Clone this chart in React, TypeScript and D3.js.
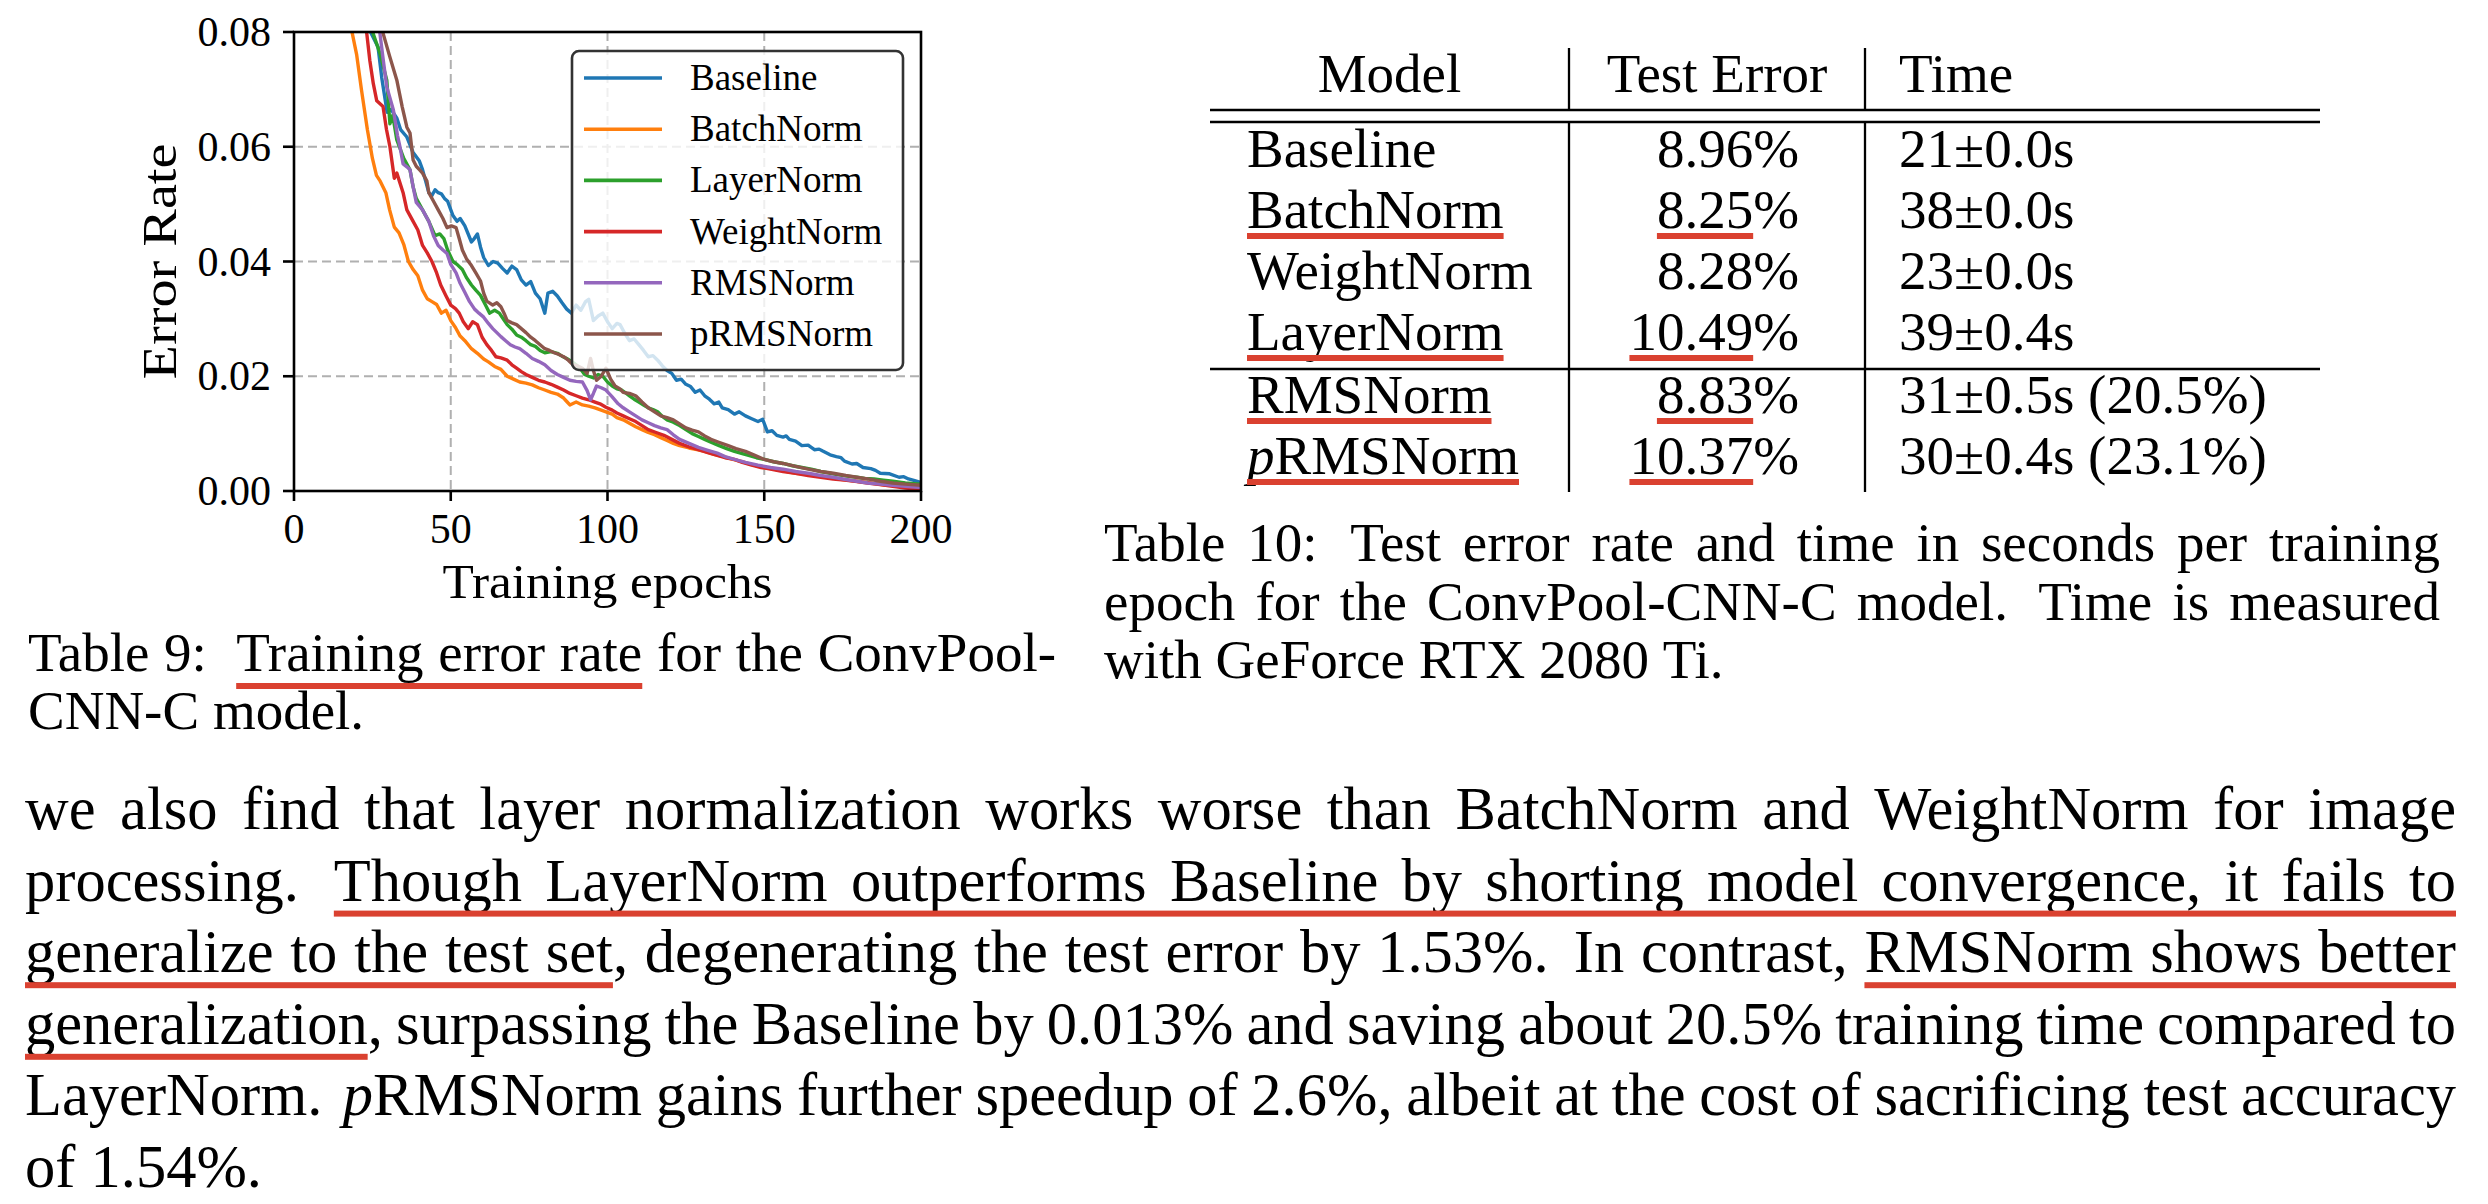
import React, { useEffect, useRef } from 'react';
import * as d3 from 'd3';

const W = 2488;
const H = 1204;
const SERIF = "'Liberation Serif', 'Times New Roman', serif";
const RED = '#da4130';

// ---------- chart data ----------
const xTicks = [0, 50, 100, 150, 200];
const yTicks = [0, 0.02, 0.04, 0.06, 0.08];
const seriesNames = ['Baseline', 'BatchNorm', 'LayerNorm', 'WeightNorm', 'RMSNorm', 'pRMSNorm'];
const seriesColors = ['#1f77b4', '#ff7f0e', '#2ca02c', '#d62728', '#9467bd', '#8c564b'];

const baselineErr: [number, number][] = [
  [10, 0.13], [20, 0.095], [24.4, 0.08], [26.8, 0.0774], [28, 0.072], [29.7, 0.066], [31, 0.0665], [32.8, 0.065],
  [34, 0.063], [36, 0.0617], [38, 0.059], [40, 0.0575], [41, 0.056], [42, 0.054], [43, 0.052], [44, 0.0515],
  [45, 0.0525], [46, 0.052], [47, 0.0518], [48, 0.051], [49, 0.0505], [50.7, 0.048], [52, 0.047], [53, 0.0475],
  [54.5, 0.0462], [56.6, 0.0434], [57.5, 0.044], [58.5, 0.0448], [59.5, 0.0425], [60.5, 0.0407], [62, 0.0393],
  [63.5, 0.04], [65, 0.0397], [66.5, 0.0388], [68, 0.038], [69.5, 0.0392], [71, 0.0386], [72.5, 0.0368],
  [74, 0.0359], [75.5, 0.0365], [77, 0.0345], [78.5, 0.0335], [80, 0.031], [81, 0.0345], [82.5, 0.0348],
  [84, 0.034], [85.5, 0.0328], [87, 0.0317], [88.5, 0.031], [90, 0.0324], [91.5, 0.0315], [93, 0.033],
  [94, 0.0334], [95.5, 0.0297], [97, 0.0305], [98.5, 0.031], [100, 0.0295], [101.5, 0.0283], [103, 0.0292],
  [104, 0.029], [105.5, 0.0275], [107, 0.0262], [108.5, 0.0265], [110, 0.0255], [111.5, 0.0245], [113, 0.0234],
  [114.5, 0.0236], [116, 0.0228], [117.5, 0.0218], [119, 0.021], [120.5, 0.0205], [122, 0.0193], [123.5, 0.0195],
  [125, 0.0186], [126.5, 0.0182], [128, 0.0172], [129.5, 0.0176], [131, 0.0166], [132.5, 0.016], [134, 0.0152],
  [135.5, 0.0155], [136.6, 0.0145], [138.5, 0.0142], [140.5, 0.0134], [142, 0.0138], [144, 0.0131], [146, 0.0126],
  [148, 0.0121], [149.5, 0.0125], [151, 0.0103], [152.5, 0.0105], [154, 0.0097], [156, 0.0094], [157, 0.0096],
  [158, 0.009], [160, 0.0087], [161, 0.0083], [162, 0.0079], [164, 0.008], [166, 0.0072], [167.5, 0.0073],
  [168.5, 0.007], [171, 0.0063], [173, 0.006], [174.5, 0.0058], [175.6, 0.0052], [178, 0.0047], [179.5, 0.0048],
  [181.5, 0.0041], [184, 0.0039], [185.5, 0.0036], [187, 0.0031], [190, 0.003], [193, 0.0024], [194.5, 0.0025],
  [196, 0.0021], [198, 0.0018], [200, 0.0015],
];

const batchNormErr: [number, number][] = [
  [10, 0.12], [18.5, 0.08], [20, 0.076], [21.5, 0.07], [23.4, 0.063], [25, 0.058], [26.3, 0.055], [27.5, 0.054],
  [29.3, 0.052], [30.5, 0.049], [32, 0.046], [33.5, 0.045], [35, 0.043], [36.5, 0.04], [38, 0.0386], [39.5, 0.0375],
  [41, 0.035], [42.5, 0.0335], [44, 0.033], [45.5, 0.0325], [47, 0.031], [48.5, 0.0315], [50, 0.0297], [51.5, 0.0285],
  [53, 0.027], [54.5, 0.0262], [56.6, 0.0248], [58.5, 0.024], [60.5, 0.023], [62, 0.0225], [64, 0.0217], [66, 0.0212],
  [68, 0.02], [70, 0.0195], [72, 0.019], [74, 0.0188], [76, 0.0185], [78, 0.018], [80, 0.0176], [82, 0.0172],
  [84, 0.0169], [86, 0.0162], [87, 0.0156], [88, 0.015], [90, 0.0155], [92, 0.015], [94, 0.0148], [96, 0.0145],
  [98, 0.0141], [99.5, 0.0138], [101.5, 0.0134], [103, 0.0128], [105, 0.0124], [107, 0.0118], [109, 0.0112],
  [111, 0.0107], [113, 0.0102], [115, 0.0098], [117, 0.0093], [119, 0.0088], [121, 0.0083], [123, 0.0079],
  [126, 0.0075], [128.5, 0.0072], [131, 0.0069], [134, 0.0064], [137, 0.006], [140, 0.0055], [143, 0.0051],
  [146, 0.0046], [150, 0.0041], [153, 0.0038], [156, 0.0035], [160, 0.0031], [165, 0.0028], [170, 0.0024],
  [175, 0.002], [179.5, 0.0017], [184, 0.0014], [189, 0.001], [194, 0.0009], [200, 0.0007],
];

const layerNormErr: [number, number][] = [
  [10, 0.14], [24.4, 0.081], [25.2, 0.0798], [27.4, 0.0763], [29.6, 0.0716], [30.6, 0.064], [31.5, 0.0655],
  [32.8, 0.0612], [35, 0.058], [37, 0.056], [38, 0.053], [39, 0.051], [41, 0.049], [43, 0.047], [45, 0.0445],
  [46.5, 0.0448], [47.8, 0.044], [49, 0.042], [50.7, 0.04], [52, 0.0395], [53.7, 0.0386], [55, 0.0372],
  [56.6, 0.0359], [58, 0.035], [59.5, 0.0341], [61, 0.0325], [62.4, 0.031], [64, 0.0315], [65.5, 0.031],
  [67, 0.0298], [68, 0.029], [69.5, 0.0282], [71, 0.0272], [72.5, 0.0268], [74, 0.0262], [75.5, 0.0255],
  [77, 0.0252], [78.5, 0.0245], [80, 0.0241], [82, 0.0243], [84, 0.024], [85.5, 0.0235], [87, 0.0231],
  [88.5, 0.0226], [90, 0.022], [91.5, 0.0212], [92.7, 0.0203], [94, 0.02], [95.6, 0.0197], [97, 0.0203],
  [98.5, 0.02], [100, 0.019], [101.5, 0.0183], [103, 0.0178], [104.5, 0.0176], [106, 0.017], [107, 0.0166],
  [108.5, 0.016], [110, 0.0155], [111.5, 0.015], [113, 0.0145], [114.5, 0.0142], [116, 0.0138], [117.5, 0.013],
  [119, 0.0124], [121, 0.012], [123, 0.0114], [125, 0.0107], [127, 0.01], [129, 0.0095], [131, 0.009],
  [133, 0.0085], [135.6, 0.0079], [138, 0.0074], [140.5, 0.0069], [143, 0.0065], [145, 0.0062], [147.5, 0.0058],
  [150, 0.0055], [153, 0.0051], [156, 0.0048], [159, 0.0044], [162, 0.0041], [165, 0.0038], [168, 0.0034],
  [171, 0.0031], [173.7, 0.0028], [176.5, 0.0026], [179.5, 0.0024], [182, 0.0022], [185, 0.0021], [188, 0.0019],
  [191, 0.0017], [195, 0.0014], [200, 0.0012],
];

const weightNormErr: [number, number][] = [
  [10, 0.125], [23.2, 0.0798], [24.2, 0.075], [25.3, 0.071], [26.4, 0.068], [28.4, 0.067], [29.5, 0.063],
  [30.6, 0.06], [32, 0.0545], [32.8, 0.0554], [34.8, 0.052], [36, 0.049], [38, 0.047], [39.5, 0.0455],
  [41, 0.0428], [42.5, 0.0415], [44, 0.04], [45.5, 0.038], [46.8, 0.0359], [48.5, 0.034], [50, 0.0324],
  [51.5, 0.0318], [52.7, 0.031], [54, 0.0295], [55.6, 0.0283], [57, 0.0295], [58.5, 0.029], [60, 0.0268],
  [61.5, 0.0255], [63, 0.0245], [64.4, 0.0234], [66, 0.0232], [68, 0.0228], [69.5, 0.022], [71, 0.0214],
  [72.5, 0.0208], [74, 0.0203], [76, 0.0198], [78, 0.0193], [80, 0.019], [82, 0.0186], [84, 0.0181],
  [86, 0.0176], [88, 0.017], [90, 0.0166], [92, 0.0162], [94, 0.0159], [96, 0.0155], [97.6, 0.0152],
  [99.5, 0.0146], [101.5, 0.0141], [103, 0.0136], [105, 0.0131], [107, 0.0126], [109, 0.0121], [111, 0.0114],
  [113, 0.0107], [115.5, 0.0102], [118, 0.0097], [120.5, 0.009], [123, 0.0083], [126, 0.0077], [129, 0.0072],
  [132, 0.0067], [135, 0.0062], [137.5, 0.0058], [140.5, 0.0055], [143, 0.005], [146, 0.0045], [149, 0.0041],
  [152, 0.0038], [156, 0.0034], [160, 0.0031], [164, 0.0027], [168, 0.0024], [172, 0.0021], [175.6, 0.0019],
  [179, 0.0017], [183, 0.0014], [187, 0.0011], [191, 0.0008], [195, 0.0005], [200, 0.0003],
];

const rmsNormErr: [number, number][] = [
  [10, 0.14], [27, 0.081], [27.4, 0.0798], [28.5, 0.075], [29.6, 0.0704], [31.7, 0.0664], [33, 0.062],
  [33.8, 0.06], [34.8, 0.057], [36, 0.0565], [37, 0.056], [38, 0.053], [39, 0.0503], [41, 0.049], [43, 0.047],
  [44.5, 0.0445], [46, 0.0428], [47.5, 0.042], [48.8, 0.0414], [50, 0.0395], [51.7, 0.038], [53, 0.0362],
  [54.6, 0.0345], [56, 0.033], [57.6, 0.0317], [59, 0.031], [60.5, 0.0303], [62, 0.0292], [63.4, 0.0283],
  [64.7, 0.0276], [66, 0.0269], [67.5, 0.0262], [69, 0.0255], [70.5, 0.0251], [72, 0.0248], [74, 0.024],
  [76, 0.0231], [78, 0.0226], [80, 0.022], [82, 0.021], [84, 0.0203], [86, 0.0198], [88, 0.0193], [90, 0.0191],
  [92, 0.019], [93.5, 0.0175], [94.6, 0.0159], [95.5, 0.017], [96.5, 0.0183], [98, 0.018], [99.5, 0.0176],
  [101.5, 0.0164], [103.4, 0.0152], [105, 0.0145], [107, 0.0138], [109, 0.0131], [111, 0.0124], [113, 0.0119],
  [115, 0.0114], [117, 0.011], [119, 0.0107], [121, 0.0098], [123, 0.009], [126, 0.0083], [129, 0.0076],
  [132, 0.0071], [135, 0.0066], [137.5, 0.006], [140.5, 0.0055], [144, 0.005], [148, 0.0045], [152, 0.0041],
  [156, 0.0038], [160, 0.0034], [164, 0.0031], [168, 0.0027], [172, 0.0024], [176, 0.002], [179.5, 0.0017],
  [183, 0.0014], [187, 0.0012], [191, 0.001], [195, 0.0008], [200, 0.0006],
];

const pRmsNormErr: [number, number][] = [
  [10, 0.15], [28.3, 0.081], [28.4, 0.0798], [30.5, 0.0758], [32.8, 0.0716], [34.5, 0.067], [36, 0.0634],
  [37, 0.0624], [38, 0.0577], [39, 0.0566], [40, 0.056], [41, 0.0554], [42.4, 0.054], [43, 0.052], [44.5, 0.0505],
  [46, 0.049], [47.5, 0.0475], [48.8, 0.0459], [50.2, 0.0462], [51.7, 0.0459], [52.7, 0.044], [53.7, 0.042],
  [55, 0.0405], [56.6, 0.0393], [58, 0.038], [59.5, 0.0366], [60.5, 0.0345], [61.5, 0.0331], [63.4, 0.0324],
  [64.7, 0.0328], [66, 0.0321], [67, 0.031], [68, 0.0297], [69.5, 0.0293], [71, 0.029], [72.5, 0.0283],
  [74, 0.0276], [75.5, 0.0268], [77, 0.0262], [78.5, 0.0255], [80, 0.0248], [81.5, 0.0245], [83, 0.0241],
  [84.5, 0.0238], [86, 0.0234], [87.5, 0.0228], [89, 0.022], [90.5, 0.0218], [92, 0.0214], [93.5, 0.0205],
  [94.6, 0.0231], [95.5, 0.021], [96.5, 0.0193], [98, 0.02], [99.5, 0.0214], [101, 0.0195], [102.4, 0.0183],
  [104, 0.0178], [105, 0.0172], [107, 0.017], [109, 0.0166], [111, 0.0155], [113, 0.0145], [115, 0.0138],
  [117, 0.0131], [119, 0.0128], [121, 0.0124], [123, 0.0117], [125, 0.011], [127, 0.0106], [129, 0.0103],
  [131, 0.0096], [133, 0.009], [135.5, 0.0085], [138.5, 0.0079], [141, 0.0074], [144, 0.0069], [147, 0.0062],
  [150, 0.0055], [153, 0.0051], [156, 0.0048], [160, 0.0043], [164, 0.0038], [168, 0.0034], [172, 0.0031],
  [176, 0.0027], [179.5, 0.0024], [183, 0.0021], [187, 0.0017], [191, 0.0014], [195, 0.0012], [200, 0.001],
];

const seriesData = [baselineErr, batchNormErr, layerNormErr, weightNormErr, rmsNormErr, pRmsNormErr];

// ---------- table data ----------
const tableHeader = ['Model', 'Test Error', 'Time'];
const tableModels = ['Baseline', '~BatchNorm~', 'WeightNorm', '~LayerNorm~', '~RMSNorm~', '~^p^RMSNorm~'];
const tableErrors = ['8.96%', '~8.25~%', '8.28%', '~10.49~%', '~8.83~%', '~10.37~%'];
const tableTimes = ['21±0.0s', '38±0.0s', '23±0.0s', '39±0.4s', '31±0.5s (20.5%)', '30±0.4s (23.1%)'];

// ---------- text ----------
const caption9 = ['Table 9:   ~Training error rate~ for the ConvPool-', 'CNN-C model.'];
const caption10 = [
  'Table 10:  Test error rate and time in seconds per training',
  'epoch for the ConvPool-CNN-C model.  Time is measured',
  'with GeForce RTX 2080 Ti.',
];
const bodyLines = [
  'we also find that layer normalization works worse than BatchNorm and WeightNorm for image',
  'processing.  ~Though LayerNorm outperforms Baseline by shorting model convergence, it fails to~',
  '~generalize to the test set~, degenerating the test error by 1.53%.  In contrast, ~RMSNorm shows better~',
  '~generalization~, surpassing the Baseline by 0.013% and saving about 20.5% training time compared to',
  'LayerNorm.  ^p^RMSNorm gains further speedup of 2.6%, albeit at the cost of sacrificing test accuracy',
  'of 1.54%.',
];

type Run = { t: string; u: boolean; i: boolean };
type Word = { runs: Run[]; gap: number };

function parseLine(s: string): Word[] {
  const words: Word[] = [];
  let u = false;
  let it = false;
  let cur: Run[] = [];
  let buf = '';
  let pending = 0;
  const flush = () => {
    if (buf) {
      cur.push({ t: buf, u, i: it });
      buf = '';
    }
  };
  const endWord = () => {
    flush();
    if (cur.length) {
      words.push({ runs: cur, gap: words.length ? pending : 0 });
      cur = [];
      pending = 0;
    }
  };
  for (const ch of s) {
    if (ch === '~') {
      flush();
      u = !u;
    } else if (ch === '^') {
      flush();
      it = !it;
    } else if (ch === ' ') {
      if (buf || cur.length) {
        endWord();
        pending = 1;
      } else pending += 0.5;
    } else buf += ch;
  }
  endWord();
  return words;
}

type LineOpts = {
  size: number;
  justify?: boolean;
  anchor?: 'start' | 'end' | 'middle';
  uOff: number;
  uH: number;
};

function drawLine(g: any, s: string, x0: number, x1: number, y: number, o: LineOpts) {
  const words = parseLine(s);
  const nodes = words.map((w) =>
    w.runs.map((r) => {
      const t = g
        .append('text')
        .attr('font-family', SERIF)
        .attr('font-size', o.size)
        .attr('font-style', r.i ? 'italic' : 'normal')
        .attr('fill', '#000')
        .attr('y', y)
        .text(r.t);
      return { el: t, w: (t.node() as SVGTextElement).getComputedTextLength(), r };
    })
  );
  const wordW = nodes.map((ns) => d3.sum(ns, (n) => n.w));
  const totalW = d3.sum(wordW);
  const weights = words.map((w, i) => (i === 0 ? 0 : w.gap));
  const sumWt = d3.sum(weights);
  let base = o.size * 0.25;
  if (o.justify && sumWt > 0) base = (x1 - x0 - totalW) / sumWt;
  const full = totalW + base * sumWt;
  let x = x0;
  if (o.anchor === 'end') x = x1 - full;
  if (o.anchor === 'middle') x = (x0 + x1) / 2 - full / 2;
  const spans: [number, number][] = [];
  let cs: [number, number] | null = null;
  nodes.forEach((ns, wi) => {
    x += weights[wi] * base;
    ns.forEach((n) => {
      n.el.attr('x', x);
      if (n.r.u) {
        if (cs) cs[1] = x + n.w;
        else cs = [x, x + n.w];
      } else if (cs) {
        spans.push(cs);
        cs = null;
      }
      x += n.w;
    });
  });
  if (cs) spans.push(cs);
  spans.forEach(([a, b]) =>
    g.append('rect').attr('x', a).attr('y', y + o.uOff).attr('width', b - a).attr('height', o.uH).attr('fill', RED)
  );
}

export default function App() {
  const ref = useRef<SVGSVGElement | null>(null);

  useEffect(() => {
    const svg = d3.select(ref.current);
    svg.selectAll('*').remove();

    // ---------- chart ----------
    const L = 294, R = 921, T = 32, B = 491;
    const x = d3.scaleLinear().domain([0, 200]).range([L, R]);
    const y = d3.scaleLinear().domain([0, 0.08]).range([B, T]);
    const chart = svg.append('g');

    chart
      .append('defs')
      .append('clipPath')
      .attr('id', 'plotclip')
      .append('rect')
      .attr('x', L)
      .attr('y', T)
      .attr('width', R - L)
      .attr('height', B - T);

    // grid
    const grid = chart.append('g').attr('stroke', '#b0b0b0').attr('stroke-width', 2).attr('stroke-dasharray', '9,5');
    xTicks.forEach((t) => grid.append('line').attr('x1', x(t)).attr('x2', x(t)).attr('y1', T).attr('y2', B));
    yTicks.forEach((t) => grid.append('line').attr('x1', L).attr('x2', R).attr('y1', y(t)).attr('y2', y(t)));

    // lines
    const line = d3
      .line<[number, number]>()
      .x((d) => x(d[0]))
      .y((d) => y(d[1]));
    const lg = chart.append('g').attr('clip-path', 'url(#plotclip)');
    seriesData.forEach((s, i) => {
      lg.append('path')
        .attr('d', line(s) as string)
        .attr('fill', 'none')
        .attr('stroke', seriesColors[i])
        .attr('stroke-width', 3.4)
        .attr('stroke-linejoin', 'round')
        .attr('stroke-linecap', 'square');
    });

    // spines
    chart
      .append('rect')
      .attr('x', L)
      .attr('y', T)
      .attr('width', R - L)
      .attr('height', B - T)
      .attr('fill', 'none')
      .attr('stroke', '#000')
      .attr('stroke-width', 2.6);

    // ticks
    const tk = chart.append('g').attr('stroke', '#000').attr('stroke-width', 2.6);
    xTicks.forEach((t) => tk.append('line').attr('x1', x(t)).attr('x2', x(t)).attr('y1', B).attr('y2', B + 10));
    yTicks.forEach((t) => tk.append('line').attr('x1', L - 11).attr('x2', L).attr('y1', y(t)).attr('y2', y(t)));

    const fmtY = d3.format('.2f');
    xTicks.forEach((t) =>
      chart
        .append('text')
        .attr('x', x(t))
        .attr('y', 543)
        .attr('text-anchor', 'middle')
        .attr('font-family', SERIF)
        .attr('font-size', 42)
        .text(String(t))
    );
    yTicks.forEach((t) =>
      chart
        .append('text')
        .attr('x', 271)
        .attr('y', y(t) + 14)
        .attr('text-anchor', 'end')
        .attr('font-family', SERIF)
        .attr('font-size', 42)
        .text(fmtY(t))
    );

    chart
      .append('text')
      .attr('x', (L + R) / 2 - 165)
      .attr('y', 598)
      .attr('font-family', SERIF)
      .attr('font-size', 48)
      .attr('textLength', 330)
      .attr('lengthAdjust', 'spacingAndGlyphs')
      .text('Training epochs');

    chart
      .append('text')
      .attr('transform', `translate(176, ${(T + B) / 2 + 118}) rotate(-90)`)
      .attr('font-family', SERIF)
      .attr('font-size', 48)
      .attr('textLength', 236)
      .attr('lengthAdjust', 'spacingAndGlyphs')
      .text('Error Rate');

    // legend
    const leg = chart.append('g');
    leg
      .append('rect')
      .attr('x', 572)
      .attr('y', 51)
      .attr('width', 331)
      .attr('height', 319)
      .attr('rx', 7)
      .attr('fill', 'rgba(255,255,255,0.8)')
      .attr('stroke', '#333')
      .attr('stroke-width', 2.6);
    seriesNames.forEach((n, i) => {
      const cy = 78 + i * 51.2;
      leg
        .append('line')
        .attr('x1', 584)
        .attr('x2', 662)
        .attr('y1', cy)
        .attr('y2', cy)
        .attr('stroke', seriesColors[i])
        .attr('stroke-width', 3.6);
      leg
        .append('text')
        .attr('x', 690)
        .attr('y', cy + 12)
        .attr('font-family', SERIF)
        .attr('font-size', 37)
        .text(n);
    });

    // ---------- table ----------
    const tb = svg.append('g');
    const TL = 1210, TR = 2320, V1 = 1569, V2 = 1865, TC = 1899;
    const rules = tb.append('g').attr('stroke', '#000').attr('stroke-width', 2.3);
    [110, 122, 369].forEach((ry) => rules.append('line').attr('x1', TL).attr('x2', TR).attr('y1', ry).attr('y2', ry));
    [V1, V2].forEach((vx) => {
      rules.append('line').attr('x1', vx).attr('x2', vx).attr('y1', 48).attr('y2', 110);
      rules.append('line').attr('x1', vx).attr('x2', vx).attr('y1', 122).attr('y2', 492);
    });
    const tOpts = { size: 55, uOff: 5, uH: 6 };
    drawLine(tb, tableHeader[0], TL, V1, 92, { ...tOpts, anchor: 'middle' });
    drawLine(tb, tableHeader[1], V1, V2, 92, { ...tOpts, anchor: 'middle' });
    drawLine(tb, tableHeader[2], TC, TR, 92, { ...tOpts, anchor: 'start' });
    const rowY = [167, 228, 289, 350, 413, 474];
    tableModels.forEach((m, i) => {
      drawLine(tb, m, 1247, V1, rowY[i], { ...tOpts, anchor: 'start' });
      drawLine(tb, tableErrors[i], V1, 1799, rowY[i], { ...tOpts, anchor: 'end' });
      drawLine(tb, tableTimes[i], TC, TR, rowY[i], { ...tOpts, anchor: 'start' });
    });

    // ---------- captions ----------
    const cap = svg.append('g');
    const cOpts = { size: 55, uOff: 12, uH: 6 };
    drawLine(cap, caption9[0], 28, 1056, 671, { ...cOpts, justify: true });
    drawLine(cap, caption9[1], 28, 1056, 729, { ...cOpts });
    caption10.forEach((l, i) =>
      drawLine(cap, l, 1104, 2440, 561 + i * 58.5, { ...cOpts, justify: i < caption10.length - 1 })
    );

    // ---------- body ----------
    const body = svg.append('g');
    bodyLines.forEach((l, i) =>
      drawLine(body, l, 25, 2456, 829 + i * 71.6, {
        size: 60.5,
        uOff: 10,
        uH: 6,
        justify: i < bodyLines.length - 1,
      })
    );
  }, []);

  return (
    <svg
      ref={ref}
      width={W}
      height={H}
      viewBox={`0 0 ${W} ${H}`}
      style={{ position: 'absolute', left: 0, top: 0, background: '#fff', display: 'block' }}
    />
  );
}
